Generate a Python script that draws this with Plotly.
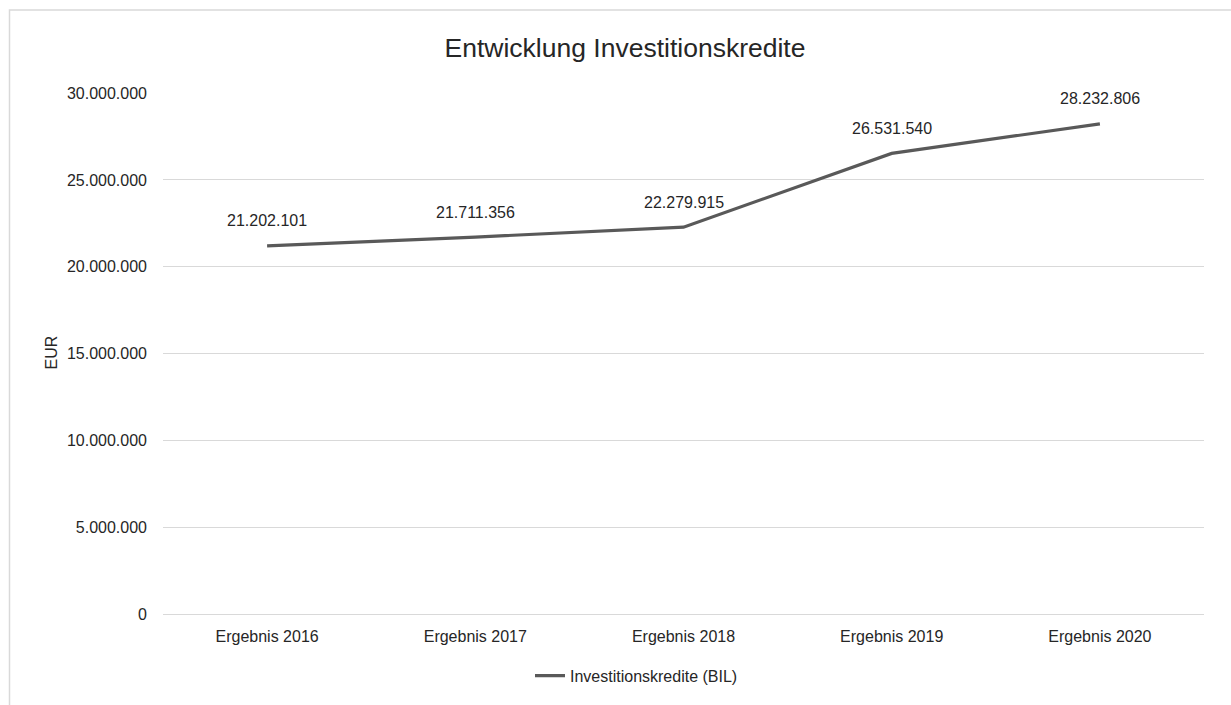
import plotly.graph_objects as go

# Investitionskredite je Ergebnisjahr (EUR)
categories = ["Ergebnis 2016", "Ergebnis 2017", "Ergebnis 2018", "Ergebnis 2019", "Ergebnis 2020"]
values = [21202101, 21711356, 22279915, 26531540, 28232806]
series_name = "Investitionskredite (BIL)"
y_ticks = [0, 5000000, 10000000, 15000000, 20000000, 25000000, 30000000]

FONT = "Liberation Sans, Arial, sans-serif"
TEXT = "#262626"
GRID = "#d9d9d9"
LINE = "#595959"
FS = 16

W, H = 1231, 705
L, R, T, B = 163, 27, 93, 88
pw, ph = W - L - R, H - T - B


def px_x(x):
    return (x - L) / pw


def px_y(y):
    return (H - B - y) / ph


def de(v):
    return f"{v:,}".replace(",", ".")


fig = go.Figure()
fig.add_trace(go.Scatter(
    x=categories, y=values, mode="lines", name=series_name,
    line=dict(color=LINE, width=3.2),
    hoverinfo="skip",
))

annotations = [
    dict(x=c, y=v, xref="x", yref="y", text=de(v), showarrow=False,
         yshift=25, font=dict(family=FONT, size=FS, color=TEXT))
    for c, v in zip(categories, values)
]
annotations.append(dict(
    x=px_x(52), y=px_y(354), xref="paper", yref="paper", text="EUR", textangle=-90,
    xanchor="center", yanchor="middle",
    showarrow=False, font=dict(family=FONT, size=FS, color=TEXT),
))

fig.update_layout(
    width=W, height=H,
    margin=dict(l=L, r=R, t=T, b=B),
    paper_bgcolor="white", plot_bgcolor="white",
    separators=",.",
    font=dict(family=FONT, size=FS, color=TEXT),
    title=dict(text="Entwicklung Investitionskredite", xref="paper", x=px_x(625), xanchor="center",
               yref="container", y=1 - 48 / H, yanchor="middle",
               font=dict(family=FONT, size=26.5, color=TEXT)),
    xaxis=dict(type="category", range=[-0.5, 4.5], showgrid=False, zeroline=False,
               showline=False, ticks="", ticklabelstandoff=11,
               tickfont=dict(family=FONT, size=FS, color=TEXT), fixedrange=True),
    yaxis=dict(range=[0, 30010000], tickvals=y_ticks, tickformat=",d",
               showgrid=True, gridcolor=GRID, gridwidth=1.3,
               zeroline=True, zerolinecolor=GRID, zerolinewidth=1.3,
               showline=False, ticks="", ticklabelstandoff=15,
               tickfont=dict(family=FONT, size=FS, color=TEXT), fixedrange=True),
    showlegend=True,
    legend=dict(orientation="h", x=px_x(530), xanchor="left", y=px_y(679), yanchor="middle",
                font=dict(family=FONT, size=FS, color=TEXT), bgcolor="rgba(0,0,0,0)"),
    annotations=annotations,
    shapes=[dict(type="rect", xref="paper", yref="paper",
                 x0=px_x(9.5), x1=px_x(1245), y0=px_y(720), y1=px_y(9.5),
                 line=dict(color=GRID, width=1.5), fillcolor="rgba(0,0,0,0)", layer="below")],
)

fig.write_html("out.html", config={"displayModeBar": False})
